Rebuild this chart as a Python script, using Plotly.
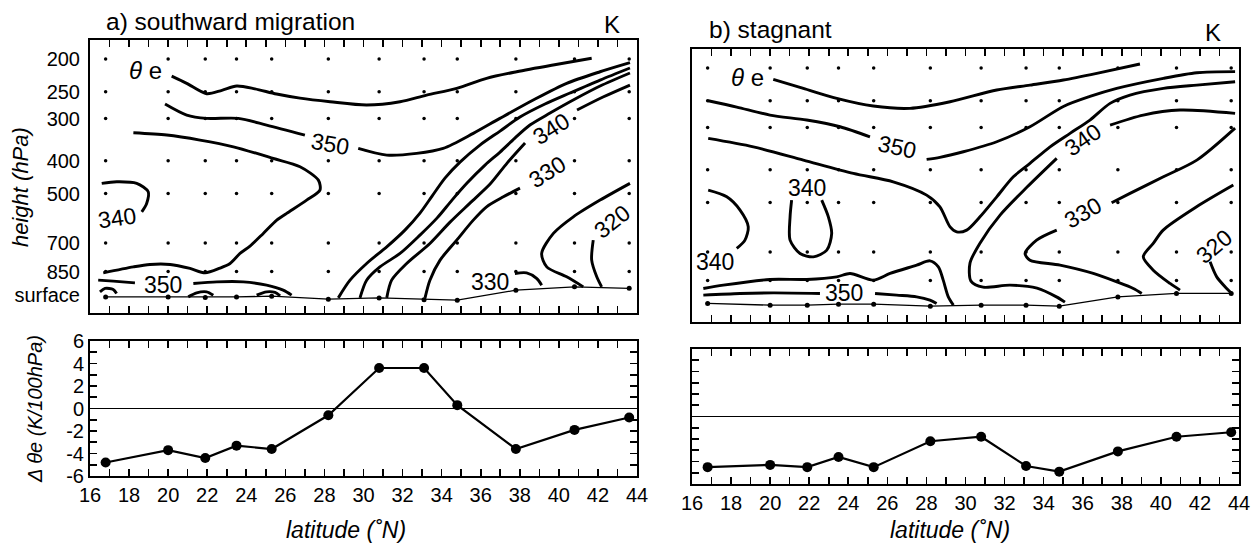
import numpy as np
import plotly.graph_objects as go

# ---------------- data ----------------
stations = [16.8, 20.0, 21.9, 23.5, 25.3, 28.2, 30.8, 33.1, 34.8, 37.8, 40.8, 43.6]
levels = [200, 250, 300, 400, 500, 700, 850]
level_ticks = [200, 250, 300, 400, 500, 700, 850, 1000]
level_ticktext = ["200", "250", "300", "400", "500", "700", "850", "surface"]
lat_ticks = list(range(16, 45))
lat_labels = [str(v) if v % 2 == 0 else "" for v in lat_ticks]
dthe_ticks = list(range(-6, 7))
dthe_labels = [str(v) if v % 2 == 0 else "" for v in dthe_ticks]

surf_a = [1010, 1010, 1014, 1010, 1005, 1026, 1017, 1029, 1033, 965, 943, 953]
surf_b = [993, 1005, 1005, 998, 998, 1012, 1005, 1005, 1012, 950, 928, 928]
dthe_a = [-4.8, -3.7, -4.4, -3.3, -3.6, -0.6, 3.6, 3.6, 0.3, -3.6, -1.9, -0.8]
dthe_b = [-4.5, -4.3, -4.5, -3.6, -4.5, -2.2, -1.8, -4.4, -4.9, -3.1, -1.8, -1.4]

# theta-e isolines of panel a (latitude, hPa)
a_top = ([20.18, 20.95, 21.97, 22.75, 23.51, 24.44, 25.55, 26.75, 28.29, 30.16, 31.87, 33.23, 34.77, 36.3, 37.84, 39.71, 41.68],
         [224.6, 236, 253.3, 247.5, 240.4, 245, 253.8, 261, 267.5, 273.6, 267.5, 255.6, 244.2, 228.1, 218.1, 208.3, 199])
a_350w = ([19.84, 20.95, 21.97, 23.59, 25.04, 27.0],
          [271.7, 292.9, 299.6, 299.6, 313.5, 335.6])
a_350e = ([29.73, 31.19, 32.72, 34.08, 35.62, 36.98, 38.69, 40.4, 42.11, 43.64],
          [367.5, 384.6, 380.2, 367.5, 331.8, 299.6, 264.4, 236, 218.1, 205])
a_s1 = ([28.71, 29.31, 30.16, 31.19, 32.12, 32.89, 33.51, 34.17, 34.94, 35.96, 36.99, 38.01, 39.29, 40.57, 42.11, 43.64],
        [1016.7, 901.2, 804.3, 718.3, 641.1, 570.9, 508.5, 449.8, 403.4, 359.3, 326.6, 296.9, 271.7, 252.1, 230.8, 212.6])
a_s2 = ([29.82, 30.16, 30.84, 31.87, 32.89, 33.76, 34.53, 35.3, 36.22, 36.99, 37.75, 38.52, 39.55, 40.83, 42.11, 43.64],
        [1016.7, 901.2, 823.2, 751.4, 663.2, 590.8, 522.6, 465.4, 411.8, 376.8, 342.6, 313.5, 288.9, 262.6, 240.4, 220])
a_340s = ([31.19, 31.44, 32.21, 33.4, 34.43, 35.45, 36.48, 37.35, 38.27],
          [1016.7, 901.2, 804.3, 701.9, 607.1, 533.4, 468.6, 406.2, 354.4])
a_340n = ([40.93, 42.26, 43.64], [283.1, 259.1, 238.8])
a_330 = ([33.15, 33.4, 33.92, 34.77, 35.62, 36.3, 37.16, 38.01],
         [1016.7, 901.2, 786.4, 686.3, 598.8, 546.9, 510.9, 481.6])
a_320a = ([43.64, 42.11, 40.74, 39.72, 39.12, 39.38, 40.4, 41.25],
          [466.3, 522.6, 585.6, 655.6, 751.4, 823.2, 881, 943.3])
a_320b = ([41.76, 41.68, 41.94, 42.19], [686.3, 786.4, 881, 943.3])
a_330hook = ([37.75, 38.35, 38.86, 39.12], [860.9, 857.5, 890.7, 932.4])
a_lobe = ([18.22, 19.93, 21.63, 23.34, 25.38, 26.75, 27.69, 27.77, 27.09, 26.07, 25.56, 24.87, 24.19, 23.68,
           23.17, 22.65, 21.89, 21.12, 20.1, 19.07, 18.22, 16.68],
          [330.4, 335.6, 347.3, 363.5, 393.4, 416.5, 456.1, 488.2, 522.6, 572.1, 598.8, 655.6, 714.8, 751.4,
           804.3, 830.5, 857.5, 832.2, 809.8, 809.8, 823.2, 857.5])
a_340w = ([16.6, 17.37, 18.39, 18.98, 18.9, 18.65], [466.3, 461.3, 466.3, 493.8, 534.5, 566])
a_lo350w = ([16.42, 17.19, 18.3], [901.2, 907.4, 918])
a_lo350e = ([21.29, 22.49, 23.85, 25.04, 25.89, 26.32], [921.8, 911.8, 911.8, 932.4, 964.7, 998.2])
a_bump1 = ([16.51, 16.77, 17.19, 17.36], [975.8, 953.5, 960, 986.6])
a_bump2 = ([21.03, 21.46, 21.97, 22.31], [1009.8, 982.6, 975.8, 998.2])
a_bump3 = ([24.53, 25.04, 25.47, 25.73], [998.2, 975.8, 979.9, 1003])

a_lines = [a_top, a_350w, a_350e, a_s1, a_s2, a_340s, a_340n, a_330, a_320a, a_320b, a_330hook,
           a_lobe, a_340w, a_lo350w, a_lo350e, a_bump1, a_bump2, a_bump3]
# contour labels: text, latitude, hPa, angle
a_labels = [("350", 28.3, 357, 10), ("340", 39.6, 322, -32), ("330", 39.4, 431, -32),
            ("340", 17.4, 592, -8), ("350", 19.75, 932, 0), ("330", 36.5, 912, 0), ("320", 42.7, 606, -38)]

# theta-e isolines of panel b (latitude, hPa)
b_top = ([20.16, 21.7, 23.41, 25.28, 27.16, 29.21, 31.6, 33.3, 35.01, 36.72, 38.93],
         [216, 229.7, 245.9, 259.1, 263.2, 251.6, 232.3, 224.6, 217, 207.4, 194.6])
b_350w = ([16.83, 18.29, 19.99, 21.87, 23.58, 25.11],
          [249.9, 260.9, 275.5, 285, 298.3, 319.4])
b_350e = ([28.01, 28.69, 29.89, 31.6, 33.3, 35.01, 36.37, 37.74, 40.13, 41.84, 43.8],
          [372.5, 367.5, 353.7, 330.4, 298.3, 259.8, 242.7, 229.7, 214.5, 206.5, 205])
b_trough = ([16.83, 19.14, 21.7, 24.26, 26.3, 28.01, 28.69, 29.21, 29.55, 30.06, 30.74, 31.6, 32.45, 33.3,
             34.33, 35.35, 36.37, 37.4, 38.42, 40.13, 41.84, 43.8],
            [322.9, 341.9, 374.3, 409.8, 433.9, 475.1, 514.5, 589.6, 610, 602.9, 550.7, 480.6, 419.4, 382.8,
             341.9, 312, 285, 254.4, 240.4, 229.7, 224.6, 219.6])
b_340n = ([37.4, 39.1, 40.98, 43.8], [295, 275.5, 266.2, 272.3])
b_340s = ([34.67, 33.15, 31.77, 30.74, 30.23, 30.28, 30.9, 32.28, 33.66, 34.68, 35.09],
          [369.9, 449.8, 544.4, 658.8, 754.9, 853.4, 888.9, 876.9, 895, 951.6, 984.6])
b_330s = ([34.67, 33.64, 33.05, 33.3, 34.84, 36.54, 37.74, 38.59, 39.02],
          [602.9, 645.4, 706.7, 739.7, 765.3, 809.8, 857.5, 897, 928])
b_330n = ([37.48, 38.42, 40.13, 41.84, 43.8], [500.7, 469.6, 419.4, 374.3, 301])
b_325 = ([43.71, 41.83, 40.12, 39.61, 39.1, 39.61, 40.47, 40.98],
         [443.8, 514.5, 602.9, 660.1, 723.3, 791.8, 866.8, 907.4])
b_320 = ([42.52, 42.86, 43.37, 43.63], [748.3, 828.9, 897, 928])
b_340w = ([16.83, 17.78, 18.46, 18.88, 18.71, 18.29], [459.2, 480.6, 526.1, 589.6, 645.4, 683])
b_340u = ([21.1, 21.02, 21.02, 21.53, 22.21, 22.9, 23.15, 22.98, 22.64],
          [491.5, 550.7, 645.4, 706.7, 723.3, 690.9, 616.7, 550.7, 491.5])
b_low = ([16.58, 17.6, 19.99, 21.87, 23.41, 24.09, 25.28, 26.14, 27.5, 28.18, 28.61, 28.86, 29.12, 29.38],
         [897, 876.9, 843.6, 843.6, 828.9, 809.8, 847.6, 809.8, 765.3, 743.2, 774.2, 847.6, 949.6, 1005])
b_lo350w = ([16.58, 18.46, 20.16, 22.55], [938.8, 928, 924.3, 928])
b_lo350e = ([25.37, 26.48, 27.5, 28.18, 28.52], [928, 938.8, 949.6, 971.2, 993.3])

b_lines = [b_top, b_350w, b_350e, b_trough, b_340n, b_340s, b_330s, b_330n, b_325, b_320,
           b_340w, b_340u, b_low, b_lo350w, b_lo350e]
b_labels = [("350", 26.5, 342, 12), ("340", 36.0, 327, -35), ("330", 36.0, 538, -30),
            ("340", 21.9, 454, 0), ("340", 17.2, 748, 0), ("350", 23.8, 928, 0), ("320", 42.7, 676, -40)]

# ---------------- figure ----------------
FONT = "Liberation Sans, Arial, sans-serif"
W, H = 1260, 549

dom_x_a = [90 / W, 637 / W]
dom_x_b = [692 / W, 1239 / W]
dom_y_a_top = [1 - 313 / H, 1 - 40 / H]
dom_y_a_bot = [1 - 476 / H, 1 - 341 / H]
dom_y_b_top = [1 - 322 / H, 1 - 49 / H]
dom_y_b_bot = [1 - 484 / H, 1 - 349 / H]

fig = go.Figure()

def add_contour_panel(lines, labels, surf, xa, ya):
    gx = np.tile(stations, len(levels))
    gy = np.repeat(levels, len(stations))
    fig.add_trace(go.Scatter(x=gx, y=gy, mode="markers", xaxis=xa, yaxis=ya,
                             marker=dict(size=3.5, color="black"), showlegend=False, hoverinfo="skip"))
    fig.add_trace(go.Scatter(x=stations, y=surf, mode="lines+markers", xaxis=xa, yaxis=ya,
                             line=dict(color="black", width=1.3), marker=dict(size=5, color="black"),
                             showlegend=False, hoverinfo="skip"))
    for lat, p in lines:
        fig.add_trace(go.Scatter(x=lat, y=p, mode="lines", xaxis=xa, yaxis=ya,
                                 line=dict(color="black", width=2.9, shape="spline", smoothing=0.8),
                                 showlegend=False, hoverinfo="skip"))
    for txt, lat, p, ang in labels:
        fig.add_annotation(x=lat, y=np.log10(p), xref=xa, yref=ya, text=txt, showarrow=False,
                           textangle=ang, font=dict(family=FONT, size=23, color="black"))

add_contour_panel(a_lines, a_labels, surf_a, "x", "y")
add_contour_panel(b_lines, b_labels, surf_b, "x3", "y3")

def add_profile(vals, xa, ya):
    fig.add_trace(go.Scatter(x=stations, y=vals, mode="lines+markers", xaxis=xa, yaxis=ya,
                             line=dict(color="black", width=2.2),
                             marker=dict(size=10, color="black"), showlegend=False, hoverinfo="skip"))

add_profile(dthe_a, "x2", "y2")
add_profile(dthe_b, "x4", "y4")

tickfont = dict(family=FONT, size=20, color="black")
frame = dict(showline=True, linecolor="black", linewidth=2, showgrid=False, zeroline=False,
             fixedrange=True, automargin=False)

top_x = dict(frame, range=[16, 44], mirror="ticks", ticks="inside", ticklen=7, tickwidth=1.6,
             tickcolor="black", tickvals=lat_ticks, showticklabels=False)
bot_x = dict(frame, range=[16, 44], mirror="ticks", ticks="inside", ticklen=7, tickwidth=1.6,
             tickcolor="black", tickvals=lat_ticks, ticktext=lat_labels, tickfont=tickfont)
top_y = dict(frame, type="log", range=[np.log10(1127), np.log10(175.7)], mirror=True, ticks="",
             tickvals=level_ticks, ticktext=level_ticktext, tickfont=tickfont, ticklabelstandoff=4)
bot_y = dict(frame, range=[-6, 6], mirror="ticks", ticks="inside", ticklen=7, tickwidth=1.6,
             tickcolor="black", tickvals=dthe_ticks, ticktext=dthe_labels, tickfont=tickfont)

fig.update_layout(
    template="none",
    width=W, height=H, autosize=False,
    margin=dict(l=0, r=0, t=0, b=0, pad=0, autoexpand=False),
    paper_bgcolor="white", plot_bgcolor="white", showlegend=False,
    font=dict(family=FONT, color="black"),
    xaxis=dict(top_x, domain=dom_x_a, anchor="y"),
    yaxis=dict(top_y, domain=dom_y_a_top, anchor="x"),
    xaxis2=dict(bot_x, domain=dom_x_a, anchor="y2"),
    yaxis2=dict(bot_y, domain=dom_y_a_bot, anchor="x2", zeroline=True, zerolinecolor="black", zerolinewidth=1),
    xaxis3=dict(top_x, domain=dom_x_b, anchor="y3"),
    yaxis3=dict(top_y, domain=dom_y_b_top, anchor="x3", showticklabels=False),
    xaxis4=dict(bot_x, domain=dom_x_b, anchor="y4"),
    yaxis4=dict(bot_y, domain=dom_y_b_bot, anchor="x4", showticklabels=False,
                zeroline=True, zerolinecolor="black", zerolinewidth=1),
)

def paper_text(txt, px, py, size, xanchor="center", angle=0):
    fig.add_annotation(x=px / W, y=1 - py / H, xref="paper", yref="paper", text=txt, showarrow=False,
                       xanchor=xanchor, yanchor="middle", textangle=angle,
                       font=dict(family=FONT, size=size, color="black"))

paper_text("a) southward migration", 104, 22, 24.5, xanchor="left")
paper_text("K", 612, 25, 24)
paper_text("b) stagnant", 707, 29, 24.5, xanchor="left")
paper_text("K", 1213, 33, 24)
paper_text("<i>height (hPa)</i>", 20, 187, 22, angle=-90)
paper_text("<i>Δ θe (K/100hPa)</i>", 35, 409, 20, angle=-90)
paper_text("<i>latitude (˚N)</i>", 346, 530, 23)
paper_text("<i>latitude (˚N)</i>", 950, 530, 23)
paper_text("<i>θ</i> e", 145, 70, 24)
paper_text("<i>θ</i> e", 747, 77, 24)

fig.write_html("out.html", config={"displayModeBar": False, "staticPlot": True},
               post_script="document.body.style.margin='0px';document.body.style.overflow='hidden';")
